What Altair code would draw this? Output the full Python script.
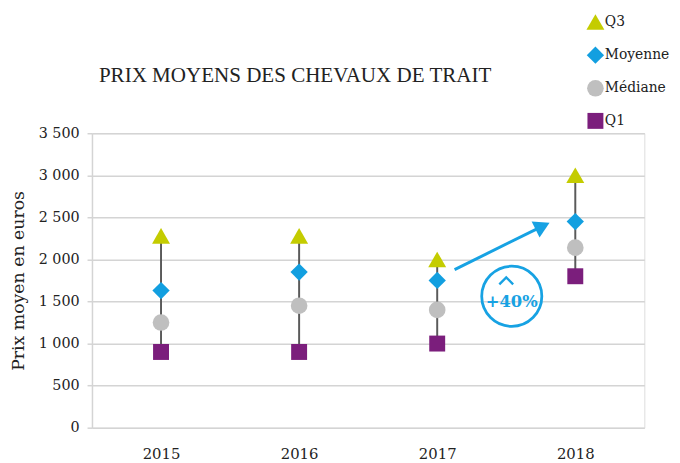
import altair as alt
import pandas as pd

years = [2015, 2016, 2017, 2018]
q1 = [900, 900, 1000, 1800]
mediane = [1250, 1450, 1400, 2140]
moyenne = [1630, 1850, 1750, 2450]
q3 = [2280, 2280, 2000, 3000]

series_names = ["Q3", "Moyenne", "Médiane", "Q1"]
series_colors = ["#c4cc00", "#129fe0", "#bfbfbf", "#7b1e7c"]
series_shapes = ["triangle-up", "diamond", "circle", "square"]
series_sizes = [330, 260, 280, 230]

# annotation (data coordinates)
arrow_start = (2017.126, 1879)
arrow_head = (2017.763, 2396)
circle_center = (2017.54, 1562)
label_pos = (2017.54, 1492)
caret_pos = (2017.50, 1745)

long_rows = []
for i, y in enumerate(years):
    for name, vals in zip(series_names, [q3, moyenne, mediane, q1]):
        long_rows.append({"year": y, "serie": name, "value": vals[i]})
df = pd.DataFrame(long_rows)
rng = pd.DataFrame({"year": years, "q1": q1, "q3": q3})

serif = "DejaVu Serif"
tserif = "Liberation Serif"
blue = "#17a2e3"

xscale = alt.Scale(domain=[2014.5, 2018.5], nice=False, zero=False)
yscale = alt.Scale(domain=[0, 3500], nice=False)

xaxis = alt.Axis(values=years, format="d", grid=False, domain=False, ticks=False,
                 labelPadding=19, labelFontSize=15, labelFont=serif, labelColor="#222",
                 title=None)
yaxis = alt.Axis(values=[0, 500, 1000, 1500, 2000, 2500, 3000, 3500],
                 labelExpr="replace(format(datum.value, ','), ',', ' ')",
                 grid=True, gridColor="#d4d4d4", gridWidth=1.5,
                 domain=True, domainColor="#d4d4d4", domainWidth=1.5,
                 ticks=True, tickColor="#d4d4d4", tickWidth=1.5, tickSize=5,
                 labelPadding=8, labelFontSize=14.5, labelFont=serif, labelColor="#222",
                 title="Prix moyen en euros", titleFont=serif, titleFontSize=17.5,
                 titleFontWeight="normal", titleColor="#222", titlePadding=11)

rules = alt.Chart(rng).mark_rule(color="#5a5a5a", strokeWidth=2).encode(
    x=alt.X("year:Q", scale=xscale, axis=xaxis),
    y=alt.Y("q1:Q", scale=yscale, axis=yaxis),
    y2="q3:Q",
)

points = alt.Chart(df).mark_point(filled=True, opacity=1, strokeWidth=0).encode(
    x=alt.X("year:Q", scale=xscale),
    y=alt.Y("value:Q", scale=yscale),
    color=alt.Color("serie:N", scale=alt.Scale(domain=series_names, range=series_colors),
                    legend=alt.Legend(title=None, orient="none", legendX=500, legendY=-122,
                                      labelFont=serif, labelFontSize=14, labelColor="#222",
                                      symbolSize=120, rowPadding=16, labelOffset=0,
                                      symbolStrokeWidth=0)),
    shape=alt.Shape("serie:N", scale=alt.Scale(domain=series_names, range=series_shapes)),
    size=alt.Size("serie:N", scale=alt.Scale(domain=series_names, range=series_sizes), legend=None),
)

arrow_df = pd.DataFrame({"x1": [arrow_start[0]], "y1": [arrow_start[1]],
                         "x2": [arrow_head[0]], "y2": [arrow_head[1]]})
arrow_line = alt.Chart(arrow_df).mark_rule(color=blue, strokeWidth=3).encode(
    x=alt.X("x1:Q", scale=xscale), y=alt.Y("y1:Q", scale=yscale), x2="x2:Q", y2="y2:Q")
arrow_tip = alt.Chart(arrow_df).mark_point(shape="triangle-up", filled=True, color=blue,
                                           opacity=1, size=330, angle=63.7, strokeWidth=0).encode(
    x=alt.X("x2:Q", scale=xscale), y=alt.Y("y2:Q", scale=yscale))

circ_df = pd.DataFrame({"x": [circle_center[0]], "y": [circle_center[1]]})
circle = alt.Chart(circ_df).mark_point(shape="circle", filled=False, color=blue, opacity=1,
                                       size=3700, strokeWidth=2.8).encode(
    x=alt.X("x:Q", scale=xscale), y=alt.Y("y:Q", scale=yscale))

caret_df = pd.DataFrame({"x": [caret_pos[0]], "y": [caret_pos[1]]})
caret = alt.Chart(caret_df).mark_point(shape="M -1 0.5 L 0 -0.5 L 1 0.5", filled=False,
                                       color=blue, opacity=1, size=196, strokeWidth=2.4).encode(
    x=alt.X("x:Q", scale=xscale), y=alt.Y("y:Q", scale=yscale))

lbl_df = pd.DataFrame({"x": [label_pos[0]], "y": [label_pos[1]], "t": ["+40%"]})
labels = alt.Chart(lbl_df).mark_text(color=blue, font=serif, fontWeight="bold", fontSize=16.5,
                                     align="center", baseline="middle").encode(
    x=alt.X("x:Q", scale=xscale), y=alt.Y("y:Q", scale=yscale), text="t:N")

chart = alt.layer(rules, points, arrow_line, arrow_tip, circle, caret, labels).properties(
    width=559, height=298,
    title=alt.TitleParams("PRIX MOYENS DES CHEVAUX DE TRAIT", anchor="start", frame="group",
                          dx=7, offset=0, dy=74, font=tserif, fontSize=21.3, fontWeight="normal",
                          color="#222"),
    autosize=alt.AutoSizeParams(type="none"),
    padding={"left": 85, "top": 124, "right": 28, "bottom": 33},
).configure_view(stroke=None).configure(background="white")

chart.save("out.html", embed_options={"renderer": "svg", "actions": False})
